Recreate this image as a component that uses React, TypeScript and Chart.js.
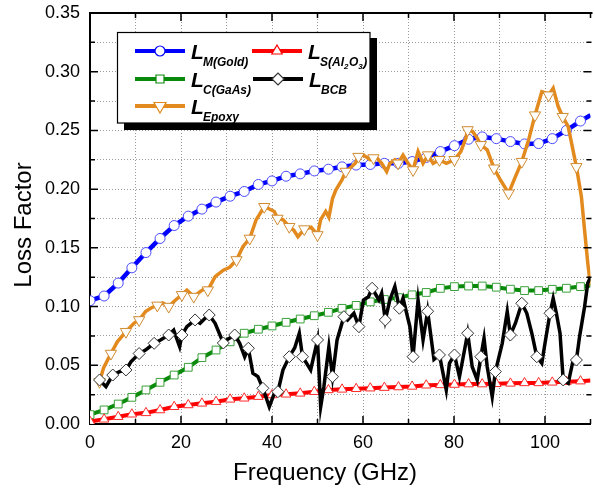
import React, { useEffect, useRef } from 'react';
import { Chart, registerables } from 'chart.js';

Chart.register(...registerables);

const FONT = '"Liberation Sans", Arial, Helvetica, sans-serif';

// ---------- data ----------
const smoothFreq = [0, 3.1, 6.2, 9.2, 12.3, 15.4, 18.5, 21.6, 24.6, 27.7, 30.8, 33.9, 37.0, 40.0, 43.1, 46.2, 49.3, 52.4, 55.4, 58.5, 61.6, 64.7, 67.8, 70.8, 73.9, 77.0, 80.1, 83.2, 86.2, 89.3, 92.4, 95.5, 98.6, 101.6, 104.7, 107.8, 110];
const goldLoss = [0.105, 0.109, 0.120, 0.133, 0.146, 0.158, 0.169, 0.177, 0.183, 0.189, 0.194, 0.198, 0.204, 0.207, 0.211, 0.213, 0.2155, 0.217, 0.219, 0.2205, 0.221, 0.222, 0.222, 0.2235, 0.227, 0.232, 0.237, 0.2425, 0.2445, 0.243, 0.2405, 0.2385, 0.2388, 0.243, 0.250, 0.258, 0.263];
const gaasLoss = [0.008, 0.012, 0.017, 0.0227, 0.029, 0.0355, 0.0417, 0.0483, 0.0565, 0.063, 0.070, 0.0773, 0.0807, 0.0835, 0.0866, 0.0894, 0.0922, 0.0951, 0.0985, 0.101, 0.104, 0.106, 0.1076, 0.110, 0.112, 0.1155, 0.117, 0.1175, 0.1175, 0.1165, 0.1148, 0.1136, 0.1136, 0.1147, 0.1156, 0.117, 0.118];
const al2o3Loss = [0.002, 0.004, 0.0062, 0.0083, 0.0095, 0.0119, 0.0147, 0.0162, 0.0176, 0.019, 0.021, 0.0219, 0.0233, 0.0247, 0.0253, 0.0261, 0.0275, 0.029, 0.0295, 0.030, 0.0305, 0.031, 0.0315, 0.032, 0.033, 0.0333, 0.0336, 0.034, 0.034, 0.0343, 0.0346, 0.035, 0.035, 0.0355, 0.036, 0.0365, 0.037];

const epoxyFreq = [2.1, 3.0, 4.6, 6.0, 7.9, 9.7, 10.8, 12.2, 13.5, 14.8, 16.0, 17.3, 18.8, 20.2, 21.3, 22.8, 24.2, 25.3, 25.9, 27.5, 29.3, 30.7, 32.2, 33.6, 35.1, 36.5, 38.3, 39.1, 40.5, 41.2, 42.4, 43.8, 44.8, 45.7, 47.1, 48.6, 50.0, 50.7, 51.8, 52.5, 53.3, 54.0, 55.4, 56.2, 57.2, 58.3, 59.0, 60.1, 61.6, 62.3, 63.2, 64.1, 65.2, 65.9, 67.0, 67.7, 68.8, 69.9, 71.0, 72.1, 73.2, 74.3, 75.4, 76.8, 78.3, 80.1, 81.5, 82.6, 83.0, 84.1, 85.1, 85.9, 87.3, 88.8, 90.2, 92.0, 93.5, 94.9, 96.4, 97.8, 99.3, 100.4, 100.8, 101.8, 102.9, 103.9, 105.1, 106.9, 108.0, 108.7, 109.4, 110.0];
const epoxyLoss = [0.036, 0.048, 0.060, 0.070, 0.0786, 0.086, 0.0886, 0.0957, 0.099, 0.101, 0.103, 0.100, 0.1056, 0.110, 0.114, 0.1085, 0.1127, 0.1156, 0.114, 0.1255, 0.131, 0.1335, 0.1397, 0.151, 0.158, 0.1738, 0.185, 0.1837, 0.181, 0.175, 0.174, 0.168, 0.165, 0.1595, 0.166, 0.1675, 0.161, 0.174, 0.181, 0.176, 0.192, 0.199, 0.208, 0.215, 0.218, 0.222, 0.2277, 0.229, 0.225, 0.2265, 0.226, 0.222, 0.215, 0.222, 0.225, 0.222, 0.229, 0.222, 0.2163, 0.232, 0.222, 0.229, 0.222, 0.225, 0.222, 0.225, 0.232, 0.2434, 0.2504, 0.249, 0.2434, 0.2377, 0.2334, 0.2178, 0.2078, 0.1965, 0.2106, 0.2234, 0.242, 0.263, 0.283, 0.2817, 0.280, 0.286, 0.2703, 0.2617, 0.2532, 0.219, 0.1936, 0.165, 0.137, 0.118];
const epoxyMarkerFreq = [2.1, 4.6, 7.9, 10.8, 14.8, 17.3, 20.2, 22.8, 25.9, 32.2, 35.1, 38.3, 41.2, 43.8, 47.1, 50.0, 56.2, 59.0, 62.3, 67.7, 71.0, 74.3, 76.8, 80.1, 83.0, 85.9, 88.8, 92.0, 94.9, 97.8, 100.8, 103.9, 106.9];

const bcbFreq = [2.1, 3.5, 5.0, 6.5, 7.9, 9.0, 10.8, 12.2, 14.1, 15.5, 17.3, 18.4, 19.7, 20.2, 21.3, 23.1, 24.2, 25.3, 26.2, 27.5, 29.3, 30.0, 31.8, 32.9, 34.0, 34.8, 35.8, 36.9, 38.0, 39.4, 40.5, 41.3, 42.4, 43.8, 45.0, 46.0, 46.7, 48.5, 50.0, 50.7, 51.4, 52.5, 53.3, 54.3, 55.8, 56.6, 58.0, 59.1, 60.1, 61.2, 62.0, 63.5, 64.1, 64.9, 65.9, 67.0, 68.0, 68.8, 70.3, 71.0, 72.1, 73.2, 74.2, 75.6, 76.8, 78.3, 79.0, 80.1, 81.2, 81.9, 83.0, 84.0, 85.1, 85.9, 86.6, 87.3, 88.4, 89.1, 90.6, 91.7, 92.4, 93.5, 94.9, 96.0, 97.1, 98.2, 99.3, 100.0, 101.1, 101.8, 102.5, 103.3, 104.0, 105.1, 106.2, 106.9, 107.6, 108.7, 109.4, 110.0];
const bcbLoss = [0.0375, 0.0318, 0.0417, 0.0446, 0.046, 0.053, 0.060, 0.063, 0.0687, 0.0715, 0.0758, 0.080, 0.0658, 0.0758, 0.0829, 0.0886, 0.0858, 0.090, 0.0928, 0.0858, 0.069, 0.0715, 0.0758, 0.0687, 0.0573, 0.0645, 0.0432, 0.0403, 0.0304, 0.0147, 0.026, 0.0275, 0.046, 0.0573, 0.065, 0.0773, 0.0573, 0.046, 0.0716, 0.0147, 0.0318, 0.0658, 0.0403, 0.0716, 0.0914, 0.0886, 0.0943, 0.0829, 0.1056, 0.1084, 0.1156, 0.1056, 0.1113, 0.0886, 0.1056, 0.117, 0.0986, 0.107, 0.0829, 0.0573, 0.1056, 0.0716, 0.096, 0.055, 0.0588, 0.029, 0.0517, 0.0588, 0.0403, 0.0545, 0.0773, 0.0488, 0.0375, 0.0573, 0.073, 0.0488, 0.0233, 0.0446, 0.0687, 0.0957, 0.0758, 0.0858, 0.1028, 0.0943, 0.0773, 0.0573, 0.0517, 0.0687, 0.0943, 0.107, 0.0943, 0.0773, 0.0375, 0.0347, 0.0545, 0.0545, 0.0744, 0.0999, 0.120, 0.125];
const bcbMarkerFreq = [2.1, 5.0, 7.9, 10.8, 14.1, 17.3, 20.2, 23.1, 26.2, 29.3, 31.8, 34.8, 38.0, 41.3, 43.8, 46.7, 50.0, 53.3, 55.8, 59.1, 62.0, 64.9, 68.0, 71.0, 74.2, 76.8, 80.1, 83.0, 85.9, 89.1, 92.4, 94.9, 98.2, 101.1, 104.0, 106.9];

const xTickLabels = [0, 20, 40, 60, 80, 100];
const yTickLabels = ['0.00', '0.05', '0.10', '0.15', '0.20', '0.25', '0.30', '0.35'];

const xTitle = 'Frequency (GHz)';
const yTitle = 'Loss Factor';

// ---------- colours ----------
const BLUE = '#0000ff';
const GREEN = '#0a8a0a';
const RED = '#ff0000';
const ORANGE = '#e38a1f';
const BLACK = '#000000';

function toPoints(xs: number[], ys: number[]) {
  return xs.map((x, i) => ({ x, y: ys[i] }));
}

function drawMarker(ctx: CanvasRenderingContext2D, style: string, x: number, y: number, color: string) {
  ctx.save();
  ctx.fillStyle = '#ffffff';
  ctx.strokeStyle = color;
  ctx.lineWidth = 1.2;
  ctx.beginPath();
  if (style === 'circle') {
    ctx.arc(x, y, 5, 0, Math.PI * 2);
  } else if (style === 'rect') {
    ctx.rect(x - 4, y - 4, 8, 8);
  } else if (style === 'triangle') {
    const r = 6;
    ctx.moveTo(x, y - r);
    ctx.lineTo(x + r * 0.866, y + r * 0.5);
    ctx.lineTo(x - r * 0.866, y + r * 0.5);
    ctx.closePath();
  } else if (style === 'triangleDown') {
    const r = 7;
    ctx.moveTo(x, y + r);
    ctx.lineTo(x + r * 0.866, y - r * 0.5);
    ctx.lineTo(x - r * 0.866, y - r * 0.5);
    ctx.closePath();
  } else if (style === 'rectRot') {
    const r = 6;
    ctx.moveTo(x - r, y);
    ctx.lineTo(x, y - r);
    ctx.lineTo(x + r, y);
    ctx.lineTo(x, y + r);
    ctx.closePath();
  }
  ctx.fill();
  ctx.stroke();
  ctx.restore();
}

type SubPart = { t: string; lower?: boolean };

function drawLegendItem(
  ctx: CanvasRenderingContext2D,
  lx: number,
  ly: number,
  color: string,
  marker: string,
  sub: SubPart[]
) {
  ctx.save();
  ctx.strokeStyle = color;
  ctx.lineWidth = 4;
  ctx.beginPath();
  ctx.moveTo(lx, ly);
  ctx.lineTo(lx + 50, ly);
  ctx.stroke();
  ctx.restore();
  const markerColor = marker === 'rectRot' ? '#333333' : color;
  drawMarker(ctx, marker, lx + 25, ly, markerColor);

  const tx = lx + 56;
  const base = ly + 7.5;
  ctx.save();
  ctx.fillStyle = '#000';
  ctx.textBaseline = 'alphabetic';
  ctx.textAlign = 'left';
  ctx.font = `italic bold 21px ${FONT}`;
  ctx.fillText('L', tx, base);
  let sx = tx + 12;
  const sb = base + 7;
  for (const p of sub) {
    if (p.lower) {
      ctx.font = `italic bold 8px ${FONT}`;
      ctx.fillText(p.t, sx, sb + 3);
      sx += ctx.measureText(p.t).width + 0.5;
    } else {
      ctx.font = `italic bold 12px ${FONT}`;
      ctx.fillText(p.t, sx, sb);
      sx += ctx.measureText(p.t).width;
    }
  }
  ctx.restore();
}

const decorPlugin = {
  id: 'decor',
  afterDraw(chart: any) {
    const ctx: CanvasRenderingContext2D = chart.ctx;
    const area = chart.chartArea;
    const xs = chart.scales.x;
    const ys = chart.scales.y;

    ctx.save();
    ctx.strokeStyle = '#000';
    // top frame line
    ctx.lineWidth = 2;
    ctx.beginPath();
    ctx.moveTo(area.left - 1, area.top);
    ctx.lineTo(area.right + 2, area.top);
    ctx.stroke();

    // inward ticks on x (bottom & top)
    ctx.lineWidth = 1.5;
    for (let v = 10; v <= 110; v += 10) {
      const x = xs.getPixelForValue(v);
      const len = v % 20 === 0 ? 8 : 5;
      ctx.beginPath();
      ctx.moveTo(x, area.bottom);
      ctx.lineTo(x, area.bottom - len);
      ctx.moveTo(x, area.top);
      ctx.lineTo(x, area.top + len);
      ctx.stroke();
    }
    // inward ticks on y (left & right)
    for (let i = 1; i < 14; i++) {
      const y = ys.getPixelForValue(i * 0.025);
      const len = i % 2 === 0 ? 8 : 5;
      ctx.beginPath();
      ctx.moveTo(area.left, y);
      ctx.lineTo(area.left + len, y);
      ctx.moveTo(area.right + 1, y);
      ctx.lineTo(area.right + 1 - len, y);
      ctx.stroke();
    }
    ctx.restore();

    // axis titles
    ctx.save();
    ctx.fillStyle = '#000';
    ctx.font = `24px ${FONT}`;
    ctx.textAlign = 'center';
    ctx.textBaseline = 'alphabetic';
    ctx.fillText(xTitle, 325, 480);
    ctx.translate(31, 225);
    ctx.rotate(-Math.PI / 2);
    ctx.fillText(yTitle, 0, 0);
    ctx.restore();

    // legend box with shadow
    ctx.save();
    ctx.fillStyle = '#000';
    ctx.fillRect(124, 38, 253, 92);
    ctx.fillStyle = '#fff';
    ctx.fillRect(117, 32, 253, 91);
    ctx.strokeStyle = '#000';
    ctx.lineWidth = 1.2;
    ctx.strokeRect(117.5, 32.5, 252.5, 90.5);
    ctx.restore();

    drawLegendItem(ctx, 135, 51, BLUE, 'circle', [{ t: 'M(Gold)' }]);
    drawLegendItem(ctx, 252, 51, RED, 'triangle', [{ t: 'S(Al' }, { t: '2', lower: true }, { t: 'O' }, { t: '3', lower: true }, { t: ')' }]);
    drawLegendItem(ctx, 135, 79, GREEN, 'rect', [{ t: 'C(GaAs)' }]);
    drawLegendItem(ctx, 253, 79, BLACK, 'rectRot', [{ t: 'BCB' }]);
    drawLegendItem(ctx, 135, 106, ORANGE, 'triangleDown', [{ t: 'Epoxy' }]);
  },
};

export default function App() {
  const canvasRef = useRef<HTMLCanvasElement | null>(null);

  useEffect(() => {
    const canvas = canvasRef.current;
    if (!canvas) return;
    Chart.defaults.font.family = FONT;

    const lastSmooth = smoothFreq.length - 1;
    const smoothRadius = (r: number) => (c: any) => (c.dataIndex < lastSmooth ? r : 0);
    const epoxySet = new Set(epoxyMarkerFreq);
    const bcbSet = new Set(bcbMarkerFreq);

    const chart = new Chart(canvas, {
      type: 'line',
      data: {
        datasets: [
          {
            label: 'L_M(Gold)',
            data: toPoints(smoothFreq, goldLoss),
            borderColor: BLUE,
            borderWidth: 4.5,
            pointStyle: 'circle',
            pointRadius: smoothRadius(5),
            pointBackgroundColor: '#ffffff',
            pointBorderColor: '#4a4aff',
            pointBorderWidth: 1,
            order: 4,
          },
          {
            label: 'L_C(GaAs)',
            data: toPoints(smoothFreq, gaasLoss),
            borderColor: GREEN,
            borderWidth: 4,
            pointStyle: 'rect',
            pointRadius: smoothRadius(5.5),
            pointBackgroundColor: '#ffffff',
            pointBorderColor: '#3aa03a',
            pointBorderWidth: 1,
            order: 3,
          },
          {
            label: 'L_S(Al2O3)',
            data: toPoints(smoothFreq, al2o3Loss),
            borderColor: RED,
            borderWidth: 4,
            pointStyle: 'triangle',
            pointRadius: smoothRadius(5.5),
            pointBackgroundColor: '#ffffff',
            pointBorderColor: '#ff2a2a',
            pointBorderWidth: 1,
            order: 2,
          },
          {
            label: 'L_Epoxy',
            data: toPoints(epoxyFreq, epoxyLoss),
            borderColor: ORANGE,
            borderWidth: 3.5,
            pointStyle: 'triangle',
            pointRotation: 180,
            pointRadius: (c: any) => (epoxySet.has(epoxyFreq[c.dataIndex]) ? 6.5 : 0),
            pointBackgroundColor: '#ffffff',
            pointBorderColor: '#d08a30',
            pointBorderWidth: 1,
            order: 1,
          },
          {
            label: 'L_BCB',
            data: toPoints(bcbFreq, bcbLoss),
            borderColor: BLACK,
            borderWidth: 3.5,
            pointStyle: 'rectRot',
            pointRadius: (c: any) => (bcbSet.has(bcbFreq[c.dataIndex]) ? 6 : 0),
            pointBackgroundColor: '#ffffff',
            pointBorderColor: '#333333',
            pointBorderWidth: 1,
            order: 0,
          },
        ],
      },
      options: {
        animation: false,
        responsive: false,
        events: [],
        layout: { padding: { top: 13, right: 0, left: 0, bottom: 0 } },
        plugins: {
          legend: { display: false },
          tooltip: { enabled: false },
        },
        elements: { line: { tension: 0 } },
        scales: {
          x: {
            type: 'linear',
            min: 0,
            max: 110,
            afterFit: (s: any) => {
              s.height = 67;
              s.paddingLeft = 0;
              s.paddingRight = 0;
              s.paddingTop = 0;
              s.paddingBottom = 0;
            },
            border: { display: true, color: '#000', width: 2, dash: [1, 2] },
            grid: {
              drawTicks: false,
              color: (c: any) => (c.tick && (c.tick.value === 0 || c.tick.value === 110) ? 'rgba(0,0,0,0)' : '#9a9a9a'),
              lineWidth: 1,
            },
            ticks: {
              stepSize: 10,
              autoSkip: false,
              maxRotation: 0,
              padding: 8,
              color: '#000',
              font: { size: 18, family: FONT },
              callback: (v: any) => {
                const n = Math.round(Number(v));
                return xTickLabels.includes(n) ? String(n) : '';
              },
            },
          },
          y: {
            type: 'linear',
            min: 0,
            max: 0.35,
            afterFit: (s: any) => {
              s.width = 90;
              s.paddingLeft = 0;
              s.paddingRight = 0;
              s.paddingTop = 0;
              s.paddingBottom = 0;
            },
            border: { display: true, color: '#000', width: 2, dash: [1, 2] },
            grid: {
              drawTicks: false,
              color: (c: any) => (c.tick && (Math.abs(c.tick.value) < 1e-9 || Math.abs(c.tick.value - 0.35) < 1e-9) ? 'rgba(0,0,0,0)' : '#9a9a9a'),
              lineWidth: 1,
            },
            ticks: {
              stepSize: 0.025,
              autoSkip: false,
              padding: 10,
              color: '#000',
              font: { size: 18, family: FONT },
              callback: (v: any) => {
                const k = Math.round(Number(v) * 1000);
                if (k % 50 !== 0) return '';
                return yTickLabels[k / 50] ?? '';
              },
            },
          },
        },
      } as any,
      plugins: [decorPlugin],
    });

    return () => chart.destroy();
  }, []);

  return (
    <div style={{ position: 'absolute', left: 0, top: 0, width: 595, height: 491, background: '#fff', overflow: 'hidden' }}>
      <canvas ref={canvasRef} width={598} height={491} style={{ display: 'block' }} />
    </div>
  );
}
